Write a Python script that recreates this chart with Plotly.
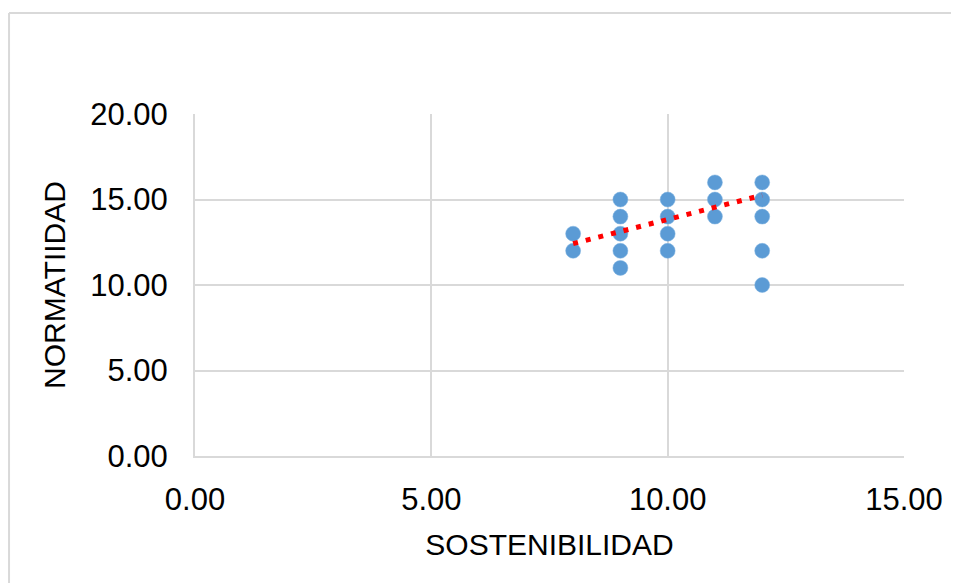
import plotly.graph_objects as go

# Data
sostenibilidad = [8, 8, 9, 9, 9, 9, 9, 10, 10, 10, 10, 11, 11, 11, 12, 12, 12, 12, 12]
normatividad = [12, 13, 11, 12, 13, 14, 15, 12, 13, 14, 15, 14, 15, 16, 10, 12, 14, 15, 16]

trend_x = [8, 12]
trend_y = [12.42, 15.25]

x_ticks = [0, 5, 10, 15]
y_ticks = [0, 5, 10, 15, 20]

FONT = "Liberation Sans, Arial, sans-serif"
GRID = "#d9d9d9"

fig = go.Figure()
fig.add_trace(go.Scatter(
    x=sostenibilidad, y=normatividad, mode="markers",
    marker=dict(color="#5b9bd5", size=15, line=dict(width=0.5, color="#7fb2e0")),
    showlegend=False, hoverinfo="x+y",
))
fig.add_trace(go.Scatter(
    x=trend_x, y=trend_y, mode="lines",
    line=dict(color="#ff0000", width=5, dash="5px,8px"),
    showlegend=False, hoverinfo="skip",
))

fig.update_layout(
    width=951, height=575,
    margin=dict(l=187, r=55, t=106, b=127),
    paper_bgcolor="white", plot_bgcolor="white",
    font=dict(family=FONT, size=31, color="#000000"),
    xaxis=dict(
        range=[0, 15], tickvals=x_ticks, tickformat=".2f",
        showgrid=True, gridcolor=GRID, gridwidth=2,
        showline=True, linecolor=GRID, linewidth=2,
        zeroline=False, ticks="", ticklabelstandoff=15,
        title=dict(text="SOSTENIBILIDAD", font=dict(size=30), standoff=18),
    ),
    yaxis=dict(
        range=[0, 20], tickvals=y_ticks, tickformat=".2f",
        showgrid=True, gridcolor=GRID, gridwidth=2,
        showline=True, linecolor=GRID, linewidth=2,
        zeroline=False, ticks="", ticklabelstandoff=19,
        title=dict(text="NORMATIIDAD", font=dict(size=30), standoff=16),
    ),
    shapes=[
        # top and left edges of the chart frame
        dict(type="line", xref="paper", yref="paper",
             x0=-0.2623, x1=1.2, y0=1.2953, y1=1.2953,
             line=dict(color="#d9d9d9", width=2), layer="below"),
        dict(type="line", xref="paper", yref="paper",
             x0=-0.2623, x1=-0.2623, y0=-0.45, y1=1.2953,
             line=dict(color="#d9d9d9", width=2), layer="below"),
    ],
)

fig.write_html("out.html")
